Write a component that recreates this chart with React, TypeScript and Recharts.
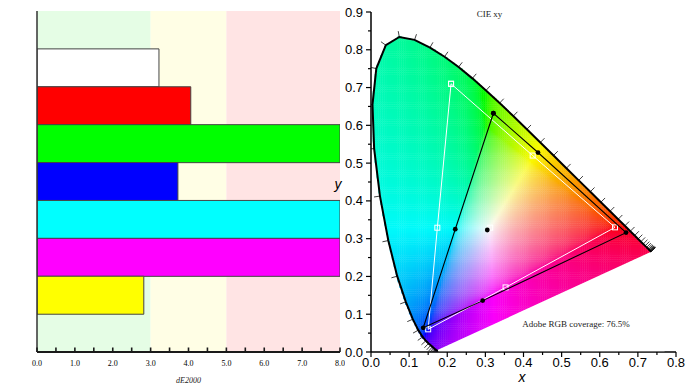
import React from 'react';
import { BarChart, Bar, XAxis, YAxis, Cell, ReferenceArea, ScatterChart, Scatter } from 'recharts';

// ---------- Left chart: dE2000 per patch ----------
const patchNames = ['padTop', 'White', 'Red', 'Green', 'Blue', 'Cyan', 'Magenta', 'Yellow', 'padBottom'];
const patchDeltaE = [null, 3.22, 4.06, 8.0, 3.72, 8.0, 8.0, 2.82, null];
const patchColors = ['#ffffff', '#ffffff', '#ff0000', '#00ff00', '#0000ff', '#00ffff', '#ff00ff', '#ffff00', '#ffffff'];
const deTicks = [0, 0.5, 1, 1.5, 2, 2.5, 3, 3.5, 4, 4.5, 5, 5.5, 6, 6.5, 7, 7.5, 8];
const bandFrom = [0, 3, 5];
const bandTo = [3, 5, 8];
const bandColors = ['#e5fde5', '#fffee5', '#ffe4e4'];

// ---------- Right chart: CIE 1931 xy ----------
const locusNm = [380, 385, 390, 395, 400, 405, 410, 415, 420, 425, 430, 435, 440, 445, 450, 455, 460, 465, 470, 475, 480, 485, 490, 495, 500, 505, 510, 515, 520, 525, 530, 535, 540, 545, 550, 555, 560, 565, 570, 575, 580, 585, 590, 595, 600, 605, 610, 615, 620, 625, 630, 635, 640, 645, 650, 655, 660, 665, 670, 675, 680, 685, 690, 695, 700];
const locusX = [0.1741, 0.1740, 0.1738, 0.1736, 0.1733, 0.1730, 0.1726, 0.1721, 0.1714, 0.1703, 0.1689, 0.1669, 0.1644, 0.1611, 0.1566, 0.1510, 0.1440, 0.1355, 0.1241, 0.1096, 0.0913, 0.0687, 0.0454, 0.0235, 0.0082, 0.0039, 0.0139, 0.0389, 0.0743, 0.1142, 0.1547, 0.1929, 0.2296, 0.2658, 0.3016, 0.3373, 0.3731, 0.4087, 0.4441, 0.4788, 0.5125, 0.5448, 0.5752, 0.6029, 0.6270, 0.6482, 0.6658, 0.6801, 0.6915, 0.7006, 0.7079, 0.7140, 0.7190, 0.7230, 0.7260, 0.7283, 0.7300, 0.7311, 0.7320, 0.7327, 0.7334, 0.7340, 0.7344, 0.7346, 0.7347];
const locusY = [0.0050, 0.0050, 0.0049, 0.0049, 0.0048, 0.0048, 0.0048, 0.0048, 0.0051, 0.0058, 0.0069, 0.0086, 0.0109, 0.0138, 0.0177, 0.0227, 0.0297, 0.0399, 0.0578, 0.0868, 0.1327, 0.2007, 0.2950, 0.4127, 0.5384, 0.6548, 0.7502, 0.8120, 0.8338, 0.8262, 0.8059, 0.7816, 0.7543, 0.7243, 0.6923, 0.6589, 0.6245, 0.5896, 0.5547, 0.5202, 0.4866, 0.4544, 0.4242, 0.3965, 0.3725, 0.3514, 0.3340, 0.3197, 0.3083, 0.2993, 0.2920, 0.2859, 0.2809, 0.2770, 0.2740, 0.2717, 0.2700, 0.2689, 0.2680, 0.2673, 0.2666, 0.2660, 0.2656, 0.2654, 0.2653];

// region below the purple line (kept white)
const purpleMaskX = [0.1741, 0.7347, 0.77, 0.77, 0.1741];
const purpleMaskY = [0.0050, 0.2653, 0.2653, 0.002, 0.002];

// measured gamut: G, Y, R, M, B, C
const measuredX = [0.321, 0.438, 0.669, 0.293, 0.137, 0.221];
const measuredY = [0.632, 0.528, 0.316, 0.136, 0.064, 0.325];
const measuredWhite = { x: 0.305, y: 0.323 };
// Adobe RGB reference: G, Y, R, M, B, C
const adobeX = [0.21, 0.424, 0.64, 0.353, 0.15, 0.174];
const adobeY = [0.71, 0.52, 0.33, 0.171, 0.06, 0.329];
const adobeWhite = { x: 0.3127, y: 0.329 };

const xyTicksX = [0, 0.05, 0.1, 0.15, 0.2, 0.25, 0.3, 0.35, 0.4, 0.45, 0.5, 0.55, 0.6, 0.65, 0.7, 0.75, 0.8];
const xyTicksY = [0, 0.05, 0.1, 0.15, 0.2, 0.25, 0.3, 0.35, 0.4, 0.45, 0.5, 0.55, 0.6, 0.65, 0.7, 0.75, 0.8, 0.85, 0.9];

const coverageText = 'Adobe RGB coverage: 76.5%';

// ---------- derived tables ----------
const barData = patchNames.map((name, i) => ({ name, value: patchDeltaE[i], color: patchColors[i] }));
const locusData = locusNm.map((nm, i) => ({ nm, x: locusX[i], y: locusY[i] }));
const purpleMaskData = purpleMaskX.map((x, i) => ({ x, y: purpleMaskY[i] }));

const locusTickData = locusData.map((p, i) => {
  const a = locusData[Math.max(0, i - 1)];
  const b = locusData[Math.min(locusData.length - 1, i + 1)];
  const tx = b.x - a.x;
  const ty = b.y - a.y;
  let nx = ty;
  let ny = tx;
  const len = Math.hypot(nx, ny) || 1;
  nx /= len;
  ny /= len;
  const ox = p.x - 0.33;
  const oy = -(p.y - 0.33);
  if (nx * ox + ny * oy < 0) {
    nx = -nx;
    ny = -ny;
  }
  return { ...p, nx, ny };
});

const closeLoop = (xs: number[], ys: number[]) => {
  const pts = xs.map((x, i) => ({ x, y: ys[i] }));
  return [...pts, pts[0]];
};
const measuredData = closeLoop(measuredX, measuredY);
const adobeData = closeLoop(adobeX, adobeY);

function insideLocus(x: number, y: number) {
  let inside = false;
  const n = locusX.length;
  for (let i = 0, j = n - 1; i < n; j = i++) {
    const xi = locusX[i], yi = locusY[i], xj = locusX[j], yj = locusY[j];
    if ((yi > y) !== (yj > y) && x < ((xj - xi) * (y - yi)) / (yj - yi) + xi) inside = !inside;
  }
  return inside;
}

function gammaEnc(c: number) {
  return c <= 0.0031308 ? 12.92 * c : 1.055 * Math.pow(c, 1 / 2.4) - 0.055;
}

function chromaColor(x: number, y: number) {
  const X = x / y;
  const Y = 1;
  const Z = (1 - x - y) / y;
  let r = 3.2406 * X - 1.5372 * Y - 0.4986 * Z;
  let g = -0.9689 * X + 1.8758 * Y + 0.0415 * Z;
  let b = 0.0557 * X - 0.204 * Y + 1.057 * Z;
  const neg = Math.min(0, r, g, b) * 0.8;
  r = Math.max(0, r - neg);
  g = Math.max(0, g - neg);
  b = Math.max(0, b - neg);
  const m = Math.max(r, g, b) || 1;
  const to = (c: number) => Math.round(250 * Math.min(1, Math.max(0, gammaEnc(c / m))));
  return `rgb(${to(r)},${to(g)},${to(b)})`;
}

// colour field of the diagram (background of the horseshoe)
const FIELD_STEP = 0.005;
const fieldCells: { x: number; y: number; c: string }[] = [];
for (let x = FIELD_STEP / 2; x < 0.74; x += FIELD_STEP) {
  for (let y = FIELD_STEP / 2; y < 0.84; y += FIELD_STEP) {
    if (insideLocus(x, y) || insideLocus(x, y + FIELD_STEP * 0.6)) fieldCells.push({ x, y, c: chromaColor(x, Math.max(y, 0.004)) });
  }
}

// ---------- shapes & ticks ----------
const FieldCell = (props: any) => {
  const { cx, cy, payload } = props;
  if (cx == null || cy == null) return null;
  return <rect x={cx - 1.15} y={cy - 1.15} width={2.3} height={2.3} fill={payload.c} />;
};

const NoShape = () => null;

const LocusTick = (props: any) => {
  const { cx, cy, payload } = props;
  if (cx == null) return null;
  return (
    <line x1={cx} y1={cy} x2={cx + payload.nx * 6} y2={cy + payload.ny * 6} stroke="#111" strokeWidth={0.8} />
  );
};

const BlackDot = (props: any) => {
  const { cx, cy } = props;
  if (cx == null) return null;
  return <circle cx={cx} cy={cy} r={2.4} fill="#000" />;
};

const HollowSquare = (props: any) => {
  const { cx, cy } = props;
  if (cx == null) return null;
  return <rect x={cx - 2.5} y={cy - 2.5} width={5} height={5} fill="none" stroke="#fff" strokeWidth={1} />;
};

const DeTick = (props: any) => {
  const { x, y, payload } = props;
  const v = payload.value;
  const major = Number.isInteger(v);
  return (
    <g>
      <line x1={x} x2={x} y1={y} y2={y - 4.5} stroke="#1a1a1a" strokeWidth={1.6} />
      {major && (
        <text x={x} y={y + 14} textAnchor="middle" fontFamily="'Liberation Serif', 'Times New Roman', serif" fontSize={8} fill="#000">
          {v.toFixed(1)}
        </text>
      )}
    </g>
  );
};

const isMajor = (v: number) => Math.abs(v * 10 - Math.round(v * 10)) < 1e-6;

const XyTickX = (props: any) => {
  const { x, y, payload } = props;
  const v = payload.value;
  const major = isMajor(v);
  return (
    <g>
      <line x1={x} x2={x} y1={y} y2={y + (major ? 5 : 3)} stroke="#000" strokeWidth={1.2} />
      {major && (
        <text x={x} y={y + 15} textAnchor="middle" fontFamily="'Liberation Sans', Arial, sans-serif" fontSize={13} fill="#000">
          {v.toFixed(1)}
        </text>
      )}
    </g>
  );
};

const XyTickY = (props: any) => {
  const { x, y, payload } = props;
  const v = payload.value;
  const major = isMajor(v);
  return (
    <g>
      <line x1={x} x2={x - (major ? 5 : 3)} y1={y} y2={y} stroke="#000" strokeWidth={1.2} />
      {major && (
        <text x={x - 8} y={y + 4.5} textAnchor="end" fontFamily="'Liberation Sans', Arial, sans-serif" fontSize={13} fill="#000">
          {v.toFixed(1)}
        </text>
      )}
    </g>
  );
};

const backMargin = { top: 11, right: 5, left: 37, bottom: 38 };
const frontMargin = { top: 11, right: 5, left: 36, bottom: 0 };

export default function App() {
  return (
    <div style={{ position: 'fixed', left: 0, top: 0, width: 693, height: 390, background: '#fff', overflow: 'hidden' }}>
      {/* background bands */}
      <div style={{ position: 'absolute', left: 0, top: 0 }}>
        <BarChart width={345} height={390} data={barData} layout="vertical" barCategoryGap={0} margin={backMargin}>
          <XAxis type="number" domain={[0, 8]} hide allowDataOverflow />
          <YAxis type="category" dataKey="name" hide />
          {bandFrom.map((f, i) => (
            <ReferenceArea key={i} x1={f} x2={bandTo[i]} fill={bandColors[i]} fillOpacity={1} stroke="none" ifOverflow="visible" />
          ))}
        </BarChart>
      </div>
      {/* bars + axes */}
      <div style={{ position: 'absolute', left: 0, top: 0 }}>
        <BarChart width={345} height={390} data={barData} layout="vertical" barCategoryGap={0} margin={frontMargin}>
          <XAxis
            type="number"
            domain={[0, 8]}
            ticks={deTicks}
            interval={0}
            height={38}
            tickSize={0}
            tickMargin={0}
            tickLine={false}
            tick={<DeTick />}
            axisLine={{ stroke: '#1a1a1a', strokeWidth: 2 }}
            allowDataOverflow
          />
          <YAxis type="category" dataKey="name" width={1} tick={false} tickLine={false} axisLine={{ stroke: '#333', strokeWidth: 1.5 }} />
          <Bar dataKey="value" isAnimationActive={false} stroke="#444" strokeWidth={1}>
            {barData.map((d, i) => (
              <Cell key={i} fill={d.color} />
            ))}
          </Bar>
        </BarChart>
      </div>
      <div style={{ position: 'absolute', left: 330, top: 0 }}>
        <ScatterChart width={363} height={390} margin={{ top: 12, right: 17, left: 0, bottom: 0 }}>
          <XAxis
            type="number"
            dataKey="x"
            domain={[0, 0.8]}
            ticks={xyTicksX}
            interval={0}
            height={38}
            tickSize={0}
            tickMargin={0}
            tickLine={false}
            tick={<XyTickX />}
            axisLine={{ stroke: '#000', strokeWidth: 1.5 }}
            allowDataOverflow
          />
          <YAxis
            type="number"
            dataKey="y"
            domain={[0, 0.9]}
            ticks={xyTicksY}
            interval={0}
            width={41}
            tickSize={0}
            tickMargin={0}
            tickLine={false}
            tick={<XyTickY />}
            axisLine={{ stroke: '#000', strokeWidth: 1.5 }}
            allowDataOverflow
          />
          <Scatter data={fieldCells} shape={<FieldCell />} isAnimationActive={false} />
          <Scatter
            data={purpleMaskData}
            shape={<NoShape />}
            line={{ stroke: 'none', fill: '#ffffff' }}
            lineType="joint"
            isAnimationActive={false}
          />
          <Scatter data={locusTickData} shape={<LocusTick />} isAnimationActive={false} />
          <Scatter
            data={locusData}
            shape={<NoShape />}
            line={{ stroke: '#000', strokeWidth: 2 }}
            lineType="joint"
            isAnimationActive={false}
          />
          <Scatter
            data={adobeData}
            shape={<HollowSquare />}
            line={{ stroke: '#fff', strokeWidth: 1 }}
            lineType="joint"
            isAnimationActive={false}
          />
          <Scatter
            data={measuredData}
            shape={<BlackDot />}
            line={{ stroke: '#000', strokeWidth: 1.1 }}
            lineType="joint"
            isAnimationActive={false}
          />
          <Scatter data={[adobeWhite]} shape={<HollowSquare />} isAnimationActive={false} />
          <Scatter data={[measuredWhite]} shape={<BlackDot />} isAnimationActive={false} />
        </ScatterChart>
      </div>
      <svg width={693} height={390} style={{ position: 'absolute', left: 0, top: 0, pointerEvents: 'none' }}>
        <text x={188.5} y={383} textAnchor="middle" fontFamily="'Liberation Serif', 'Times New Roman', serif" fontStyle="italic" fontSize={8} fill="#222">
          dE2000
        </text>
        <text x={489.5} y={17} textAnchor="middle" fontFamily="'Liberation Serif', 'Times New Roman', serif" fontSize={9} fill="#222">
          CIE xy
        </text>
        <text x={576} y={327} textAnchor="middle" fontFamily="'Liberation Serif', 'Times New Roman', serif" fontSize={9} fill="#222">
          {coverageText}
        </text>
        <text x={522} y={382} textAnchor="middle" fontFamily="'Liberation Sans', Arial, sans-serif" fontStyle="italic" fontSize={14} fill="#000">
          x
        </text>
        <text x={338} y={189} textAnchor="middle" fontFamily="'Liberation Sans', Arial, sans-serif" fontStyle="italic" fontSize={14} fill="#000">
          y
        </text>
      </svg>
    </div>
  );
}
